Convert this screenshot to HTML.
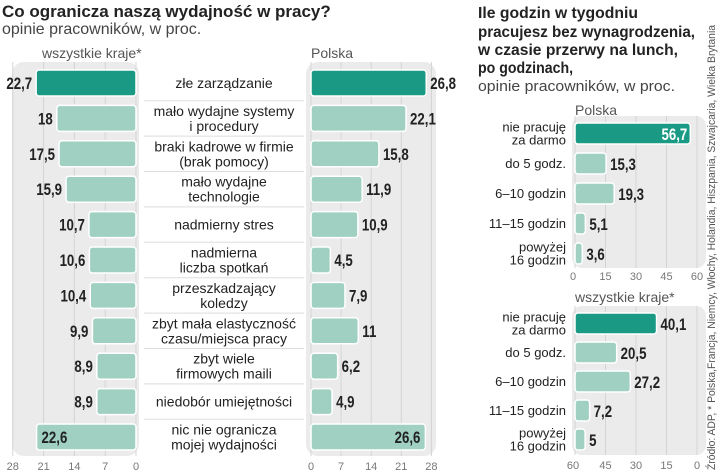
<!DOCTYPE html>
<html><head><meta charset="utf-8"><style>
body{margin:0;width:720px;height:474px;background:#fff;overflow:hidden}
svg{display:block}
.t{font-family:"Liberation Sans",sans-serif}
.n{font-family:"Liberation Sans",sans-serif;font-weight:bold}
</style></head><body>
<svg id="c" width="720" height="474" xmlns="http://www.w3.org/2000/svg">
<text class="t" x="2" y="17" font-size="17" font-weight="bold" fill="#222">Co ogranicza naszą wydajność w pracy?</text>
<text class="t" x="2" y="34" font-size="16" fill="#444">opinie pracowników, w proc.</text>
<text class="t" x="42" y="58" font-size="14" fill="#555">wszystkie kraje*</text>
<text class="t" x="311" y="58" font-size="14" fill="#555">Polska</text>
<g font-weight="bold" font-size="15.5" fill="#222" class="t">
<text x="478" y="18" textLength="160" lengthAdjust="spacingAndGlyphs">Ile godzin w tygodniu</text>
<text x="478" y="37" textLength="217" lengthAdjust="spacingAndGlyphs">pracujesz bez wynagrodzenia,</text>
<text x="478" y="55" textLength="200" lengthAdjust="spacingAndGlyphs">w czasie przerwy na lunch,</text>
<text x="478" y="73" textLength="95" lengthAdjust="spacingAndGlyphs">po godzinach,</text>
</g>
<text class="t" x="478" y="91" font-size="15" fill="#444" textLength="197" lengthAdjust="spacingAndGlyphs">opinie pracowników, w proc.</text>
<text class="t" transform="translate(715,470) rotate(-90)" font-size="11" fill="#555" textLength="445" lengthAdjust="spacingAndGlyphs">Źródło: ADP, * Polska,Francja, Niemcy, Włochy, Holandia, Hiszpania, Szwajcaria, Wielka Brytania</text>
<g id="g"></g>
</svg>
<script>
const cats=["złe zarządzanie","mało wydajne systemy|i procedury","braki kadrowe w firmie|(brak pomocy)","mało wydajne|technologie","nadmierny stres","nadmierna|liczba spotkań","przeszkadzający|koledzy","zbyt mała elastyczność|czasu/miejsca pracy","zbyt wiele|firmowych maili","niedobór umiejętności","nic nie ogranicza|mojej wydajności"];
const allVals=[22.7,18,17.5,15.9,10.7,10.6,10.4,9.9,8.9,8.9,22.6];
const plVals=[26.8,22.1,15.8,11.9,10.9,4.5,7.9,11,6.2,4.9,26.6];
const ticksL=[0,7,14,21,28];
const hCats=["nie pracuję|za darmo","do 5 godz.","6–10 godzin","11–15 godzin","powyżej|16 godzin"];
const hPl=[56.7,15.3,19.3,5.1,3.6];
const hAll=[40.1,20.5,27.2,7.2,5];
const ticksH=[0,15,30,45,60];
const NS="http://www.w3.org/2000/svg";
const g=document.getElementById('g');
function el(t,a,txt){const e=document.createElementNS(NS,t);for(const k in a)e.setAttribute(k,a[k]);if(txt!==undefined)e.textContent=txt;g.appendChild(e);return e;}
function num(x,y,s,anchor,fill){return el('text',{transform:'translate('+x+','+y+') scale(0.78,1)',x:0,y:0,'font-size':17,fill:fill||'#222','text-anchor':anchor,class:'n'},s);}
const fmt=v=>String(v).replace('.',',');
const DARK="#1a9a85",LIGHT="#9fd0c2";
const xL=v=>136-v*4.4, xR=v=>311+v*4.3;
const yRow=i=>83+i*35.4;
let p=el('rect',{x:12,y:62,width:127,height:394,rx:12,fill:'#ebebeb'});

p=el('rect',{x:306,y:62,width:130,height:394,rx:12,fill:'#ebebeb'});

ticksL.forEach(t=>{
 let l=el('line',{x1:xL(t),x2:xL(t),y1:62,y2:456,stroke:'#d4d4d4'});
 
 l=el('line',{x1:xR(t),x2:xR(t),y1:62,y2:456,stroke:'#d4d4d4'});
 
 let a=el('text',{x:xL(t),y:470,'font-size':11,fill:'#777','text-anchor':'middle',class:'t'},t);
 
 a=el('text',{x:xR(t),y:470,'font-size':11,fill:'#777','text-anchor':'middle',class:'t'},t);
 
});
cats.forEach((c,i)=>{
 const y=yRow(i),h=26,col=i==0?DARK:LIGHT;
 const v=allVals[i],w=v*4.4;
 let b=el('rect',{x:xL(v),y:y-h/2,width:w,height:h,rx:3,fill:col,stroke:'#fff','stroke-width':1.5});
 
 let inside=i==10;
 let t=num(inside?xL(v)+5:xL(v)-4,y+6,fmt(v),inside?'start':'end');
 
 const pv=plVals[i];
 b=el('rect',{x:xR(0),y:y-h/2,width:pv*4.3,height:h,rx:3,fill:col,stroke:'#fff','stroke-width':1.5});
 
 inside=i==10;
 t=num(inside?xR(pv)-5:xR(pv)+4,y+6,fmt(pv),inside?'end':'start');
 
 const lines=c.split('|');
 lines.forEach((s,k)=>{
  const ty=y+5+(k-(lines.length-1)/2)*15;
  const tt=el('text',{x:224,y:ty,'font-size':14,fill:'#222','text-anchor':'middle',class:'t'},s);
  
 });
 if(i<10){const s=el('line',{x1:144,x2:304,y1:y+17.7,y2:y+17.7,stroke:'#ddd'});
 }
});
function small(vals,y0,pitch,titleY,title,rev,nm,tickY,panelBot){
 const x0=575,sc=122/60,xs=v=>x0+v*sc;
 let p=el('rect',{x:572,y:y0-17,width:134,height:panelBot-(y0-17),rx:10,fill:'#ebebeb'});
 
 let tt=el('text',{x:575,y:titleY,'font-size':14,fill:'#555',class:'t'},title);
 
 ticksH.forEach((t,k)=>{
  const l=el('line',{x1:xs(t),x2:xs(t),y1:y0-17,y2:panelBot,stroke:'#d4d4d4'});
  
  const lab=rev?ticksH[ticksH.length-1-k]:t;
  const a=el('text',{x:xs(t)+(k==0?-2:0),y:tickY,'font-size':11,fill:'#777','text-anchor':'middle',class:'t'},lab);
  
 });
 vals.forEach((v,i)=>{
  const y=y0+i*pitch,col=i==0?DARK:LIGHT;
  const b=el('rect',{x:x0,y:y-10,width:v*sc,height:21,rx:3,fill:col,stroke:'#fff','stroke-width':1.5});
  
  const ins=v>50;
  const t=num(ins?xs(v)-3:xs(v)+4,y+7,fmt(v),ins?'end':'start',ins?'#fff':'#222');
  
  const lines=hCats[i].split('|');
  lines.forEach((s,k)=>{
   const c=el('text',{x:566,y:y+5+(k-(lines.length-1)/2)*13,'font-size':13,fill:'#222','text-anchor':'end',class:'t'},s);
   
  });
 });
}
small(hPl,133,30,115,'Polska',false,'hours-poland',280,268);
small(hAll,323,29,302,'wszystkie kraje*',true,'hours-all',469,455);
</script>
</body></html>
